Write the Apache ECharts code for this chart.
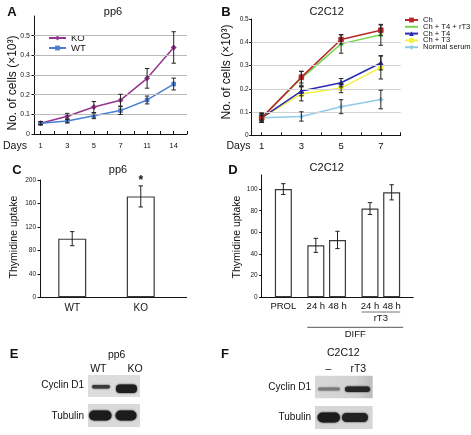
<!DOCTYPE html>
<html><head><meta charset="utf-8">
<script src="https://cdn.jsdelivr.net/npm/echarts@6/dist/echarts.min.js"></script>
<style>html,body{margin:0;padding:0;background:#fff}#c{width:471px;height:435px}</style>
</head><body><div id="c"></div>
<script>
// ---------- DATA ----------
// Panel A (pp6 growth)
const daysA = ['1', '3', '5', '7', '11', '14'];
const koMean = [0.055, 0.090, 0.137, 0.172, 0.283, 0.440];
const koErr  = [0.008, 0.015, 0.028, 0.030, 0.050, 0.080];
const wtMean = [0.055, 0.066, 0.093, 0.119, 0.173, 0.254];
const wtErr  = [0.008, 0.010, 0.015, 0.020, 0.020, 0.030];
const yTicksA = [0, 0.1, 0.2, 0.3, 0.4, 0.5];
const gridA = [0.1, 0.2, 0.3, 0.4, 0.5];
// Panel B (C2C12 growth)
const daysB = ['1', '3', '5', '7'];
const namesB = ['Ch', 'Ch + T4 + rT3', 'Ch + T4', 'Ch + T3', 'Normal serum'];
const chMean      = [0.075, 0.250, 0.412, 0.452];
const chErr       = [0.020, 0.025, 0.020, 0.022];
const chT4rT3Mean = [0.075, 0.245, 0.393, 0.432];
const chT4rT3Err  = [0.020, 0.030, 0.040, 0.045];
const chT4Mean    = [0.075, 0.190, 0.226, 0.311];
const chT4Err     = [0.015, 0.020, 0.018, 0.030];
const chT3Mean    = [0.075, 0.178, 0.203, 0.292];
const chT3Err     = [0.020, 0.030, 0.020, 0.050];
const nsMean      = [0.075, 0.081, 0.123, 0.154];
const nsErr       = [0.010, 0.020, 0.030, 0.040];
const yTicksB = [0, 0.1, 0.2, 0.3, 0.4, 0.5];
const gridB = [0.1, 0.2, 0.3, 0.4];
// Panel C (pp6 thymidine)
const groupsC = ['WT', 'KO'];
const thyC    = [100, 172];
const thyCErr = [12, 18];
const sigC    = ['', '*'];
const yTicksC = [0, 40, 80, 120, 160, 200];
// Panel D (C2C12 thymidine)
const labelsD  = ['PROL', '24 h', '48 h', '24 h', '48 h'];
const thyD     = [100, 48, 53, 82, 97];
const thyDErr  = [5, 6.5, 8, 5.5, 7];
const yTicksD  = [0, 20, 40, 60, 80, 100];

// ---------- LAYOUT / STYLE ----------
const FONT = '"Liberation Sans", Arial, Helvetica, sans-serif';
const slotsC = [0, 1];
const slotsD = [0, 3, 5, 8, 10];
const colorsB = ['#b8262a', '#74d64f', '#2b2bb0', '#f2f23c', '#8fcbe8'];
const symbolsB = ['rect', 'path://M0,0L10,10M10,0L0,10M5,0L5,10', 'triangle', 'rect', 'diamond'];
const meansB = [chMean, chT4rT3Mean, chT4Mean, chT3Mean, nsMean];
const errsB = [chErr, chT4rT3Err, chT4Err, chT3Err, nsErr];

const chart = echarts.init(document.getElementById('c'), null, {renderer: 'canvas'});

function halfSteps(lo, hi) { const r = []; for (let v = lo; v <= hi + 1e-9; v += 0.5) r.push(v); return r; }

function xAxisVal(gi, min, max, labelVals, fmt, tickVals, fontSize, margin) {
  return {
    type: 'value', gridIndex: gi, min, max, splitLine: {show: false},
    axisLine: {show: true, onZero: false, lineStyle: {color: '#111', width: 1}},
    axisTick: {show: !!tickVals, customValues: tickVals || [], inside: true, length: 3, lineStyle: {color: '#111'}},
    axisLabel: {customValues: labelVals, formatter: fmt, fontSize, margin, color: '#111', fontFamily: FONT}
  };
}
function yAxisVal(gi, min, max, ticks, fontSize, margin) {
  return {
    type: 'value', gridIndex: gi, min, max, splitLine: {show: false},
    axisLine: {show: true, onZero: false, lineStyle: {color: '#111', width: 1}},
    axisTick: {show: true, customValues: ticks, length: 2.5, lineStyle: {color: '#111'}},
    axisLabel: {customValues: ticks, fontSize, margin, color: '#222', fontFamily: FONT, formatter: v => String(v)}
  };
}
function pts(arr, xs) { return arr.map((v, i) => [xs ? xs[i] : i, v]); }
function makeErr(gi, mean, err, xs, opts) {
  opts = opts || {};
  const data = mean.map((m, i) => [xs ? xs[i] : i, m, err[i], i]);
  return {
    type: 'custom', xAxisIndex: gi, yAxisIndex: gi, z: 10, silent: true, data,
    renderItem(params, api) {
      const x = api.value(0), m = api.value(1), e = api.value(2), idx = api.value(3);
      const t = api.coord([x, m + e]), b = api.coord([x, m - e]);
      const w = opts.cap || 2.2;
      const st = {stroke: opts.color || '#222', lineWidth: 1};
      const ch = [
        {type: 'line', shape: {x1: t[0], y1: t[1], x2: b[0], y2: b[1]}, style: st},
        {type: 'line', shape: {x1: t[0] - w, y1: t[1], x2: t[0] + w, y2: t[1]}, style: st},
        {type: 'line', shape: {x1: b[0] - w, y1: b[1], x2: b[0] + w, y2: b[1]}, style: st}
      ];
      if (opts.marks && opts.marks[idx]) {
        ch.push({type: 'text', x: t[0], y: t[1] + 1, style: {text: opts.marks[idx], textAlign: 'center', textVerticalAlign: 'bottom', fontSize: 12, fontWeight: 'bold', fill: '#111', fontFamily: FONT}});
      }
      return {type: 'group', children: ch};
    }
  };
}
function gridLines(gi, vals, color) {
  return {
    type: 'line', xAxisIndex: gi, yAxisIndex: gi, data: [], z: 1, silent: true,
    markLine: {silent: true, symbol: 'none', label: {show: false}, animation: false,
      lineStyle: {color, width: 1, type: 'solid'}, data: vals.map(v => ({yAxis: v}))}
  };
}

const series = [];
// A
series.push(gridLines(0, gridA, '#b9b9b9'));
series.push({type: 'line', name: 'KO', xAxisIndex: 0, yAxisIndex: 0, data: pts(koMean), symbol: 'diamond', symbolSize: 6,
  itemStyle: {color: '#96358f'}, lineStyle: {color: '#96358f', width: 1.5}, z: 3});
series.push({type: 'line', name: 'WT', xAxisIndex: 0, yAxisIndex: 0, data: pts(wtMean), symbol: 'rect', symbolSize: 4.5,
  itemStyle: {color: '#4a7fd4'}, lineStyle: {color: '#4a7fd4', width: 1.5}, z: 3});
series.push(makeErr(0, koMean, koErr));
series.push(makeErr(0, wtMean, wtErr));
// B
series.push(gridLines(1, gridB, '#d2d2d2'));
namesB.forEach((n, k) => {
  series.push({type: 'line', name: n, xAxisIndex: 1, yAxisIndex: 1, data: pts(meansB[k]), symbol: symbolsB[k], symbolSize: 4.5,
    itemStyle: {color: colorsB[k], borderColor: colorsB[k]}, lineStyle: {color: colorsB[k], width: 1.5}, z: 3 + (4 - k) * 0.1});
});
namesB.forEach((n, k) => series.push(makeErr(1, meansB[k], errsB[k])));
// C
series.push({type: 'bar', xAxisIndex: 2, yAxisIndex: 2, data: pts(thyC, slotsC), barWidth: 28,
  itemStyle: {color: '#fff', borderColor: '#3a3a3a', borderWidth: 1.2}});
series.push(makeErr(2, thyC, thyCErr, slotsC, {marks: sigC}));
// D
series.push({type: 'bar', xAxisIndex: 3, yAxisIndex: 3, data: pts(thyD, slotsD), barWidth: 17,
  itemStyle: {color: '#fff', borderColor: '#3a3a3a', borderWidth: 1.2}});
series.push(makeErr(3, thyD, thyDErr, slotsD));

const option = {
  animation: false,
  backgroundColor: '#fff',
  textStyle: {fontFamily: FONT},
  grid: [
    {left: 34, top: 16, width: 153, height: 118, outerBoundsMode: 'none', containLabel: false},
    {left: 251.7, top: 19, width: 149, height: 116.3, outerBoundsMode: 'none', containLabel: false},
    {left: 40, top: 180, width: 146.7, height: 117.3, outerBoundsMode: 'none', containLabel: false},
    {left: 261.7, top: 175, width: 151.6, height: 122.3, outerBoundsMode: 'none', containLabel: false}
  ],
  xAxis: [
    xAxisVal(0, -0.25, 5.5, daysA.map((d, i) => i), v => daysA[Math.round(v)], halfSteps(0, 5.5), 7.5, 8),
    xAxisVal(1, -0.25, 3.5, daysB.map((d, i) => i), v => daysB[Math.round(v)], halfSteps(0, 3.5), 9.5, 6),
    xAxisVal(2, -0.47, 1.67, slotsC, v => groupsC[slotsC.indexOf(Math.round(v))], null, 10, 6),
    xAxisVal(3, -2, 12, slotsD, v => labelsD[slotsD.indexOf(Math.round(v))], null, 9.5, 4)
  ],
  yAxis: [
    yAxisVal(0, 0, 0.6, yTicksA, 7, 4),
    yAxisVal(1, 0, 0.5, yTicksB, 6.5, 3),
    yAxisVal(2, 0, 200, yTicksC, 6.5, 4),
    yAxisVal(3, 0, 113, yTicksD, 6.5, 4)
  ],
  legend: [
    {data: ['KO', 'WT'], orient: 'vertical', left: 43, top: 28, itemWidth: 17, itemHeight: 6, itemGap: 0,
      textStyle: {fontSize: 9.5, color: '#111', fontFamily: FONT}, selectedMode: false},
    {data: namesB, orient: 'vertical', left: 399, top: 11, itemWidth: 13, itemHeight: 6, itemGap: -1.2,
      textStyle: {fontSize: 7.6, color: '#111', fontFamily: FONT}, selectedMode: false}
  ],
  series
};
chart.setOption(option);

// ---------- annotations ----------
function T(text, x, y, size, o) {
  o = o || {};
  return {type: 'text', x, y, rotation: o.rot || 0, silent: true, z: 20,
    style: {text, fontSize: size, fontFamily: FONT, fill: o.fill || '#111', textAlign: o.align || 'center',
      textVerticalAlign: 'middle', fontWeight: o.weight || 'normal'}};
}
function R(x, y, w, h, fill, r, blur) {
  return {type: 'rect', silent: true, z: 15, shape: {x, y, width: w, height: h, r: r || 0},
    style: {fill, shadowBlur: blur || 0, shadowColor: fill}};
}
const g = [];
// panel letters
[['A', 12, 12], ['B', 226, 12], ['C', 17, 170], ['D', 233, 170], ['E', 14, 354], ['F', 225, 354]]
  .forEach(a => g.push(T(a[0], a[1], a[2], 13, {weight: 'bold'})));
// titles
g.push(T('pp6', 113, 12, 11));
g.push(T('C2C12', 326.7, 12, 11));
g.push(T('pp6', 118, 170, 11));
g.push(T('C2C12', 326.7, 168.3, 11));
// y titles
g.push(T('No. of cells (×10³)', 13, 83, 12, {rot: Math.PI / 2}));
g.push(T('No. of cells (×10³)', 227, 72, 12, {rot: Math.PI / 2}));
g.push(T('Thymidine uptake', 14, 237, 10.5, {rot: Math.PI / 2}));
g.push(T('Thymidine uptake', 237, 237, 10.5, {rot: Math.PI / 2}));
// Days
g.push(T('Days', 3, 146, 10.5, {align: 'left'}));
g.push(T('Days', 226.5, 146, 10.5, {align: 'left'}));
// D group brackets
const px = s => chart.convertToPixel({xAxisIndex: 3}, s);
const half = 8.5;
const r0 = px(slotsD[3]) - half, r1 = px(slotsD[4]) + half;
g.push({type: 'line', silent: true, shape: {x1: r0, y1: 312, x2: r1, y2: 312}, style: {stroke: '#777', lineWidth: 1}});
g.push(T('rT3', (r0 + r1) / 2, 318.5, 9.5));
const d0 = px(slotsD[1]) - half, d1 = px(slotsD[4]) + half + 3;
g.push({type: 'line', silent: true, shape: {x1: d0, y1: 327.3, x2: d1, y2: 327.3}, style: {stroke: '#555', lineWidth: 1}});
g.push(T('DIFF', (d0 + d1) / 2, 334.5, 9.5));
// Blot E
g.push(T('pp6', 116.7, 355, 10.5));
g.push(T('WT', 98.3, 369, 10.5));
g.push(T('KO', 135, 369, 10.5));
g.push(T('Cyclin D1', 84, 385.7, 10, {align: 'right'}));
g.push(T('Tubulin', 84, 416.5, 10, {align: 'right'}));
g.push(R(88, 375, 52, 22, '#dddddd'));
g.push(R(88, 404, 52, 23, '#dadada'));
g.push(R(92, 385, 18, 3.5, '#3a3a3a', 1.7, 2));
g.push(R(116, 384.5, 21, 8.5, '#1e1e1e', 4, 2));
g.push(R(89, 410.5, 22.5, 10, '#1c1c1c', 5, 2));
g.push(R(115.5, 410.5, 21, 10, '#1c1c1c', 5, 2));
// Blot F
g.push(T('C2C12', 343.3, 352.7, 10.5));
g.push(T('–', 328.3, 369, 10.5));
g.push(T('rT3', 358.3, 369, 10.5));
g.push(T('Cyclin D1', 311, 387.7, 10, {align: 'right'}));
g.push(T('Tubulin', 311, 417.7, 10, {align: 'right'}));
g.push({type: 'rect', silent: true, z: 15, shape: {x: 315, y: 375.7, width: 57.7, height: 22.6},
  style: {fill: new echarts.graphic.LinearGradient(0, 0, 1, 0, [{offset: 0, color: '#d8d8d8'}, {offset: 0.7, color: '#d2d2d2'}, {offset: 1, color: '#bdbdbd'}])}});
g.push(R(315, 406, 57.7, 23, '#d6d6d6'));
g.push(R(318, 387.5, 22, 3, '#7a7a7a', 1.5, 2));
g.push(R(345, 386.5, 25, 5.5, '#262626', 2.7, 2));
g.push(R(317.5, 412.5, 22.5, 10, '#1c1c1c', 5, 2));
g.push(R(342, 413, 26, 9, '#222222', 4.5, 2));

chart.setOption({graphic: {elements: g}});
</script></body></html>
